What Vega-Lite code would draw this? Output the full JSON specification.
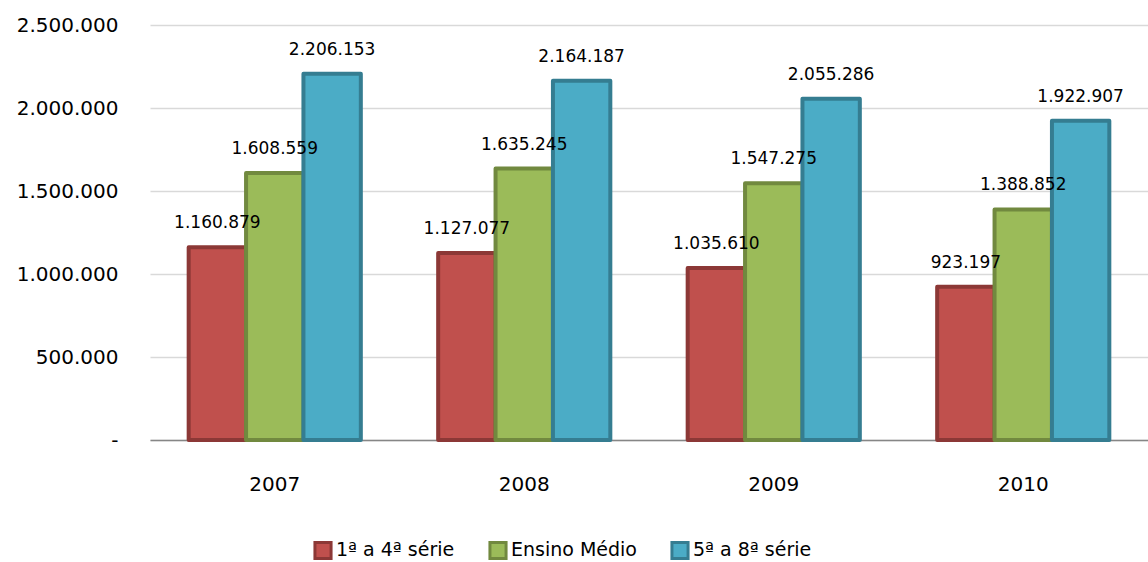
{
  "$schema": "https://vega.github.io/schema/vega-lite/v6.json",
  "description": "Matrículas por ano e etapa",
  "autosize": "none",
  "width": 998,
  "height": 415,
  "padding": {"left": 150, "top": 25, "right": 0, "bottom": 122},
  "background": "white",
  "config": {
    "locale": {"number": {"decimal": ",", "thousands": ".", "grouping": [3], "currency": ["R$", ""]}},
    "font": "DejaVu Sans",
    "view": {"stroke": null}
  },
  "data": {
    "values": [
      {"ano": "2007", "serie": "1ª a 4ª série", "valor": 1160879},
      {"ano": "2007", "serie": "Ensino Médio", "valor": 1608559},
      {"ano": "2007", "serie": "5ª a 8ª série", "valor": 2206153},
      {"ano": "2008", "serie": "1ª a 4ª série", "valor": 1127077},
      {"ano": "2008", "serie": "Ensino Médio", "valor": 1635245},
      {"ano": "2008", "serie": "5ª a 8ª série", "valor": 2164187},
      {"ano": "2009", "serie": "1ª a 4ª série", "valor": 1035610},
      {"ano": "2009", "serie": "Ensino Médio", "valor": 1547275},
      {"ano": "2009", "serie": "5ª a 8ª série", "valor": 2055286},
      {"ano": "2010", "serie": "1ª a 4ª série", "valor": 923197},
      {"ano": "2010", "serie": "Ensino Médio", "valor": 1388852},
      {"ano": "2010", "serie": "5ª a 8ª série", "valor": 1922907}
    ]
  },
  "encoding": {
    "x": {
      "field": "ano",
      "type": "nominal",
      "title": null,
      "scale": {"paddingInner": 0.31, "paddingOuter": 0.155},
      "axis": {
        "labelAngle": 0,
        "labelFontSize": 20,
        "labelColor": "#000000",
        "labelPadding": 34,
        "ticks": false,
        "domainColor": "#868686",
        "domainWidth": 1.5
      }
    },
    "xOffset": {
      "field": "serie",
      "type": "nominal",
      "sort": ["1ª a 4ª série", "Ensino Médio", "5ª a 8ª série"],
      "scale": {"paddingInner": 0, "paddingOuter": 0}
    },
    "y": {
      "field": "valor",
      "type": "quantitative",
      "title": null,
      "scale": {"domain": [0, 2500000]},
      "axis": {
        "values": [0, 500000, 1000000, 1500000, 2000000, 2500000],
        "format": ",d",
        "labelExpr": "datum.value == 0 ? '-' : datum.label",
        "labelFontSize": 20,
        "labelColor": "#000000",
        "labelPadding": 32,
        "ticks": false,
        "domain": false,
        "gridColor": "#D9D9D9",
        "gridWidth": 1.5
      }
    }
  },
  "layer": [
    {
      "mark": {"type": "bar", "strokeWidth": 4, "strokeJoin": "round"},
      "encoding": {
        "color": {
          "field": "serie",
          "type": "nominal",
          "title": null,
          "scale": {
            "domain": ["1ª a 4ª série", "Ensino Médio", "5ª a 8ª série"],
            "range": ["#C0504D", "#9BBB59", "#4BACC6"]
          },
          "legend": {
            "orient": "none",
            "direction": "horizontal",
            "legendX": 163,
            "legendY": 515,
            "symbolType": "square",
            "symbolSize": 260,
            "symbolStrokeWidth": 3,
            "labelFontSize": 19,
            "labelColor": "#000000",
            "columnPadding": 28,
            "labelOffset": 3
          }
        },
        "stroke": {
          "field": "serie",
          "type": "nominal",
          "scale": {
            "domain": ["1ª a 4ª série", "Ensino Médio", "5ª a 8ª série"],
            "range": ["#8C3836", "#71893F", "#357D91"]
          },
          "legend": null
        }
      }
    },
    {
      "mark": {"type": "text", "dy": -24, "fontSize": 17, "color": "#000000"},
      "encoding": {
        "text": {"field": "valor", "type": "quantitative", "format": ",d"}
      }
    }
  ]
}
